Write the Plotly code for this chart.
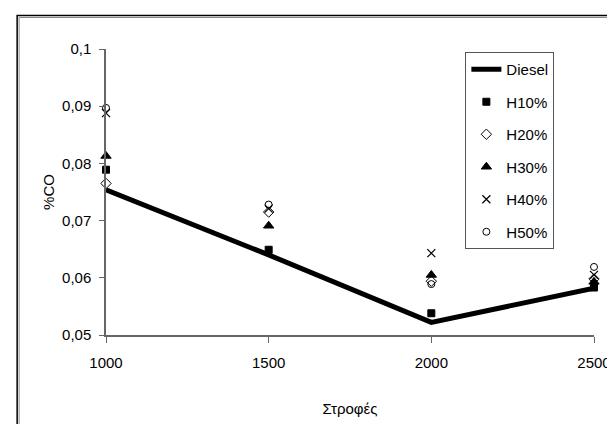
import plotly.graph_objects as go

# --- data ---
rpm = [1000, 1500, 2000, 2500]
diesel = [0.0754, 0.0640, 0.0522, 0.0582]
h10 = [0.0789, 0.0649, 0.0538, 0.0583]
h20 = [0.0765, 0.0715, 0.0594, 0.0598]
h30 = [0.0813, 0.0691, 0.0605, 0.0593]
h40 = [0.0888, 0.0721, 0.0643, 0.0605]
h50 = [0.0897, 0.0728, 0.0589, 0.0619]

x_tickvals = [1000, 1500, 2000, 2500]
x_ticktext = ["1000", "1500", "2000", "2500"]
y_tickvals = [0.05, 0.06, 0.07, 0.08, 0.09, 0.1]
y_ticktext = ["0,05", "0,06", "0,07", "0,08", "0,09", "0,1"]

FONT = "Liberation Sans, Arial, sans-serif"
fig = go.Figure()

fig.add_trace(go.Scatter(x=rpm, y=diesel, mode="lines", name="Diesel",
                         line=dict(color="black", width=5), legendgroup="a"))
series = [
    ("H10%", h10, "square", 7, 1),
    ("H20%", h20, "diamond-open", 8, 1),
    ("H30%", h30, "triangle-up", 9, 1),
    ("H40%", h40, "x-thin-open", 8, 1.2),
    ("H50%", h50, "circle-open", 7, 1),
]
for name, vals, sym, sz, lw in series:
    fig.add_trace(go.Scatter(
        x=rpm, y=vals, mode="markers", name=name, legendgroup=name,
        marker=dict(symbol=sym, size=sz, color="black",
                    line=dict(color="black", width=lw)),
    ))

ml, mr, mt, mb = 98, 20, 41, 97
W, H = 615, 424
pw, ph = W - ml - mr, H - mt - mb

def px2paper_x(px):
    return (px - ml) / pw

def px2paper_y(py):
    return (H - mb - py) / ph

fig.update_layout(
    width=W, height=H,
    margin=dict(l=ml, r=mr, t=mt, b=mb, pad=0),
    paper_bgcolor="white", plot_bgcolor="white",
    font=dict(family=FONT, size=15, color="black"),
    showlegend=True,
    legend=dict(
        x=px2paper_x(464), y=px2paper_y(44), xanchor="left", yanchor="top",
        bordercolor="#555555", borderwidth=1, bgcolor="white",
        traceorder="grouped", tracegroupgap=10,
        font=dict(family=FONT, size=15, color="black"),
        itemwidth=30,
    ),
    xaxis=dict(
        range=[1000, 2500], tickvals=x_tickvals, ticktext=x_ticktext,
        showgrid=False, zeroline=False,
        showline=True, linecolor="#666666", linewidth=1.5,
        ticks="outside", ticklen=6, tickcolor="#666666", tickwidth=1.2,
        tickfont=dict(family=FONT, size=15), ticklabelstandoff=7,
        title=dict(text="Στροφές", font=dict(family=FONT, size=15), standoff=34),
    ),
    yaxis=dict(
        range=[0.05, 0.1], tickvals=y_tickvals, ticktext=y_ticktext,
        showgrid=False, zeroline=False,
        showline=True, linecolor="#666666", linewidth=1.5,
        ticks="outside", ticklen=5, tickcolor="#666666", tickwidth=1.2,
        tickfont=dict(family=FONT, size=15), ticklabelstandoff=5,
        title=dict(text="%CO", font=dict(family=FONT, size=15), standoff=4),
    ),
    shapes=[
        dict(type="rect", xref="paper", yref="paper",
             x0=px2paper_x(7.5), x1=px2paper_x(700),
             y0=px2paper_y(7.5), y1=px2paper_y(600),
             line=dict(color="black", width=1.5), layer="below"),
        dict(type="rect", xref="paper", yref="paper",
             x0=px2paper_x(9.5), x1=px2paper_x(700),
             y0=px2paper_y(9.5), y1=px2paper_y(600),
             line=dict(color="#888888", width=1), layer="below"),
    ],
)
fig.update_traces(cliponaxis=False)

fig.write_html("out.html")
